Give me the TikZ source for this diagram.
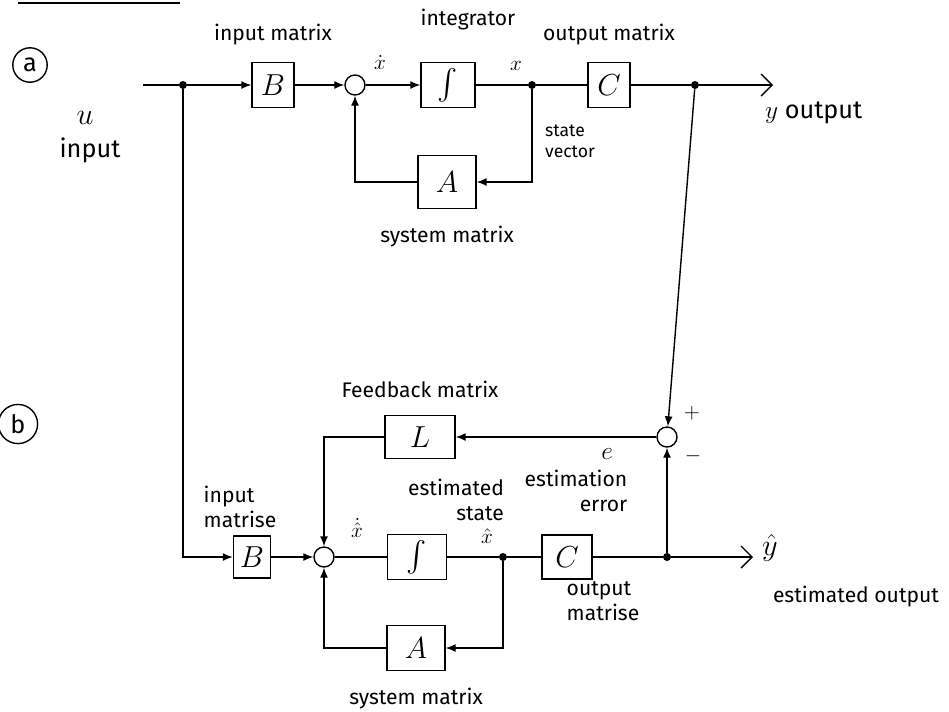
\documentclass[tikz,border=0pt]{standalone}
\usepackage{fontspec}
\setmainfont{Fira Sans}
\usepackage{amsmath}
\usetikzlibrary{positioning,arrows.meta}

\begin{document}
\begin{tikzpicture}[x=0.02cm, y=-0.02cm,
  node distance=2mm,
  blk/.style={draw, thick, minimum width=8.4mm, minimum height=9mm, font=\LARGE},
  sumnode/.style={draw, thick, circle, minimum size=4mm, inner sep=0pt},
  jdot/.style={circle, fill, inner sep=0pt, minimum size=1.6mm},
  tag/.style={draw, thick, circle, inner sep=3pt, font=\Large},
  lbl/.style={font=\large, align=center, inner sep=1pt},
  arr/.style={-{Latex[length=2mm,width=1.6mm]}, thick},
  outarr/.style={-{Straight Barb[length=2.2mm]}, thick},
  ln/.style={thick}]
\useasboundingbox (0,0) rectangle (949,711);
\draw[ln] (18,3) -- (180,3);

% (a) plant
\node[tag] (tagA) at (30,65) {a};
\coordinate (uin) at (143,85);
\node[jdot] (jU) at (183,85) {};
\node[blk] (bA) at (273,85) {$B$};
\node[sumnode] (sA) at (355,85) {};
\node[blk, minimum width=10.8mm] (iA) at (448,85) {$\int$};
\node[jdot] (jX) at (532,85) {};
\node[blk] (cA) at (609,85) {$C$};
\node[jdot] (jY) at (695,85) {};
\coordinate (yout) at (773,85);
\node[blk, minimum width=11.6mm, minimum height=10.6mm] (aA) at (447,182) {$A$};

\node[lbl, above=3mm of bA] (lbA) {input matrix};
\node[lbl] (liA) at (468,20) {integrator};
\node[lbl, above=3mm of cA] (lcA) {output matrix};
\node[font=\large, inner sep=1pt] (ldxA) at (380,62) {$\dot{x}$};
\node[font=\large, inner sep=1pt] (lxA) at (516,66) {$x$};
\node[lbl, font=\normalsize, align=left] (lsv) at (570,141) {state\\vector};
\node[lbl, below=3mm of aA] (laA) {system matrix};
\node[font=\LARGE] (lu) at (85,118) {$u$};
\node[lbl, font=\Large] (lin) at (90,150) {input};
\node[lbl, font=\Large, anchor=west] (ly) at (763,113) {$y$ output};

\draw[ln] (uin) -- (jU);
\draw[arr] (jU) -- (bA);
\draw[arr] (bA) -- (sA);
\draw[arr] (sA) -- (iA);
\draw[ln] (iA) -- (jX);
\draw[ln] (jX) -- (cA);
\draw[ln] (cA) -- (jY);
\draw[outarr] (jY) -- (yout);
\draw[arr] (jX) |- (aA);
\draw[arr] (aA) -| (sA);

% (b) observer
\node[tag] (tagB) at (18,424) {b};
\node[blk, minimum width=7.4mm, minimum height=8.4mm] (bB) at (252,557) {$B$};
\node[sumnode] (sB) at (324,557) {};
\node[blk, minimum width=11.8mm] (iB) at (417,557) {$\int$};
\node[jdot] (jXh) at (503,557) {};
\node[blk, minimum width=10mm, minimum height=8.8mm] (cB) at (567,557) {$C$};
\node[jdot] (jYh) at (667,557) {};
\coordinate (yhout) at (753,557);
\node[blk, minimum width=11.6mm] (aB) at (416,648) {$A$};
\node[sumnode] (sE) at (667,437) {};
\node[blk, minimum width=14mm, minimum height=8.6mm] (lB) at (420,437) {$L$};

\node[lbl, above=3mm of lB] (llB) {Feedback matrix};
\node[font=\Large] (le) at (607,454) {$e$};
\node[lbl, align=right] (lee) at (576,491) {estimation\\error};
\node[lbl, align=right] (les) at (456,500) {estimated\\state};
\node[font=\large, inner sep=1pt] (lxh) at (487,536) {$\hat{x}$};
\node[font=\large, inner sep=1pt] (ldxh) at (357,528) {$\dot{\hat{x}}$};
\node[lbl, align=left] (lbB) at (240,507) {input\\matrise};
\node[lbl, align=left] (lcB) at (603,601) {output\\matrise};
\node[lbl, below=3mm of aB] (laB) {system matrix};
\node[font=\LARGE] (lyh) at (770,548) {$\hat{y}$};
\node[lbl] (lyhe) at (856,597) {estimated output};
\node[font=\large] (lplus) at (692,413) {$+$};
\node[font=\large] (lminus) at (693,456) {$-$};

\draw[arr] (jU) |- (bB);
\draw[arr] (bB) -- (sB);
\draw[ln] (sB) -- (iB);
\draw[ln] (iB) -- (jXh);
\draw[ln] (jXh) -- (cB);
\draw[ln] (cB) -- (jYh);
\draw[outarr] (jYh) -- (yhout);
\draw[arr] (jXh) |- (aB);
\draw[arr] (aB) -| (sB);
\draw[arr] (jYh) -- (sE);
\draw[arr] (jY) -- (sE);
\draw[arr] (sE) -- (lB);
\draw[arr] (lB) -| (sB);
\end{tikzpicture}
\end{document}
